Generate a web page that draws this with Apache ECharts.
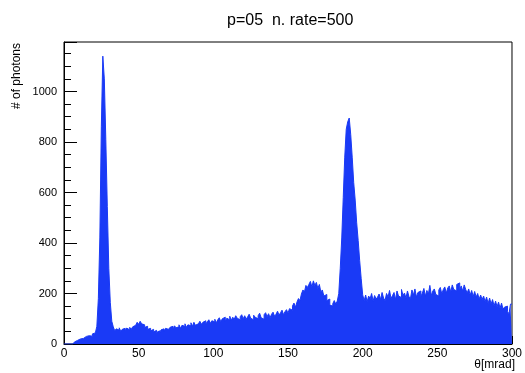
<!DOCTYPE html>
<html>
<head>
<meta charset="utf-8">
<script src="https://cdn.jsdelivr.net/npm/echarts@6/dist/echarts.min.js"></script>
<style>
  html, body { margin: 0; padding: 0; background: #fff; }
  #main { width: 525px; height: 373px; }
</style>
</head>
<body>
<div id="main"></div>
<script>
// histogram: 300 bins of 1 mrad, from 0 to 300
var binWidth = 1;
var counts = [
  0, 0, 0, 0, 0, 0, 2, 8, 14, 18,
  20, 24, 22, 28, 30, 27, 33, 36, 31, 40,
  44, 38, 70, 180, 420, 860, 1140, 1050, 810, 545,
  300, 165, 90, 68, 52, 60, 55, 64, 50, 58,
  62, 52, 63, 56, 66, 58, 68, 74, 70, 86,
  78, 90, 80, 76, 66, 70, 58, 62, 52, 58,
  48, 54, 46, 52, 44, 56, 60, 50, 62, 58,
  54, 66, 70, 58, 72, 64, 68, 76, 62, 74,
  70, 80, 66, 76, 72, 84, 70, 86, 74, 80,
  76, 90, 78, 86, 92, 80, 88, 96, 82, 92,
  88, 98, 84, 96, 104, 88, 100, 106, 90, 102,
  96, 110, 94, 106, 98, 112, 102, 96, 108, 116,
  100, 112, 98, 108, 118, 102, 96, 114, 106, 100,
  112, 122, 104, 98, 116, 124, 108, 120, 104, 118,
  126, 110, 118, 130, 114, 124, 134, 116, 128, 136,
  122, 140, 134, 150, 162, 146, 166, 180, 172, 198,
  214, 206, 232, 224, 236, 248, 226, 250, 232, 244,
  220, 236, 206, 214, 190, 196, 172, 178, 154, 150,
  160, 172, 158, 170, 200, 300, 420, 580, 740, 850,
  880, 895, 830, 740, 640, 570, 480, 410, 330, 260,
  195, 172, 194, 168, 190, 180, 200, 170, 192, 178,
  186, 198, 176, 204, 182, 172, 200, 186, 212, 180,
  192, 204, 176, 210, 190, 184, 216, 192, 202, 182,
  210, 188, 180, 214, 194, 218, 186, 204, 210, 188,
  202, 220, 190, 212, 198, 232, 192, 210, 218, 196,
  190, 214, 224, 198, 216, 226, 202, 222, 230, 206,
  234, 216, 210, 236, 242, 214, 230, 210, 234, 216,
  202, 218, 194, 212, 188, 208, 186, 200, 178, 194,
  176, 190, 168, 186, 160, 182, 158, 176, 150, 170,
  148, 166, 142, 162, 138, 146, 150, 128, 120, 158
];
var xTicks = [0, 50, 100, 150, 200, 250, 300];
var yTicks = [0, 200, 400, 600, 800, 1000];

// step points at left bin edges, plus closing point at the last edge
var stepData = counts.map(function (v, i) { return [i * binWidth, v]; });
stepData.push([counts.length * binWidth, counts[counts.length - 1]]);

var blue = '#1a3af6';
var chart = echarts.init(document.getElementById('main'));

var option = {
  animation: false,
  title: {
    text: 'p=05  n. rate=500',
    left: 222,
    top: 8,
    textStyle: { fontFamily: 'Liberation Sans', fontSize: 16, fontWeight: 'normal', color: '#000' }
  },
  grid: {
    left: 64, right: 11, top: 42, bottom: 29,
    show: true, borderColor: '#000', borderWidth: 1
  },
  xAxis: {
    type: 'value',
    min: xTicks[0],
    max: xTicks[xTicks.length - 1],
    interval: 50,
    axisLine: { lineStyle: { color: '#000', width: 1 } },
    axisTick: { inside: true, length: 8, lineStyle: { color: '#000' } },
    minorTick: { show: true, splitNumber: 5, length: 4, lineStyle: { color: '#000' } },
    splitLine: { show: false },
    axisLabel: { margin: 4, color: '#000', fontFamily: 'Liberation Sans', fontSize: 12 }
  },
  yAxis: {
    type: 'value',
    min: yTicks[0],
    max: 1196,
    interval: 200,
    axisLine: { show: true, lineStyle: { color: '#000', width: 1 } },
    axisTick: { show: true, inside: true, length: 13, lineStyle: { color: '#000' } },
    minorTick: { show: true, splitNumber: 4, length: 7, lineStyle: { color: '#000' } },
    splitLine: { show: false },
    axisLabel: {
      margin: 7, color: '#000', fontFamily: 'Liberation Sans', fontSize: 11,
      showMaxLabel: false,
      formatter: function (v) { return String(v); }
    }
  },
  graphic: [
    {
      type: 'text',
      left: 11, top: 43,
      rotation: Math.PI / 2,
      style: { text: '# of photons', fill: '#000', font: '12px "Liberation Sans"' }
    },
    {
      type: 'text',
      right: 10, top: 359,
      style: { text: 'θ[mrad]', fill: '#000', font: '12px "Liberation Sans"' }
    }
  ],
  series: [
    {
      type: 'line',
      step: 'end',
      data: stepData,
      showSymbol: false,
      lineStyle: { color: blue, width: 1 },
      areaStyle: { color: blue, opacity: 1 }
    }
  ]
};
chart.setOption(option);
</script>
</body>
</html>
